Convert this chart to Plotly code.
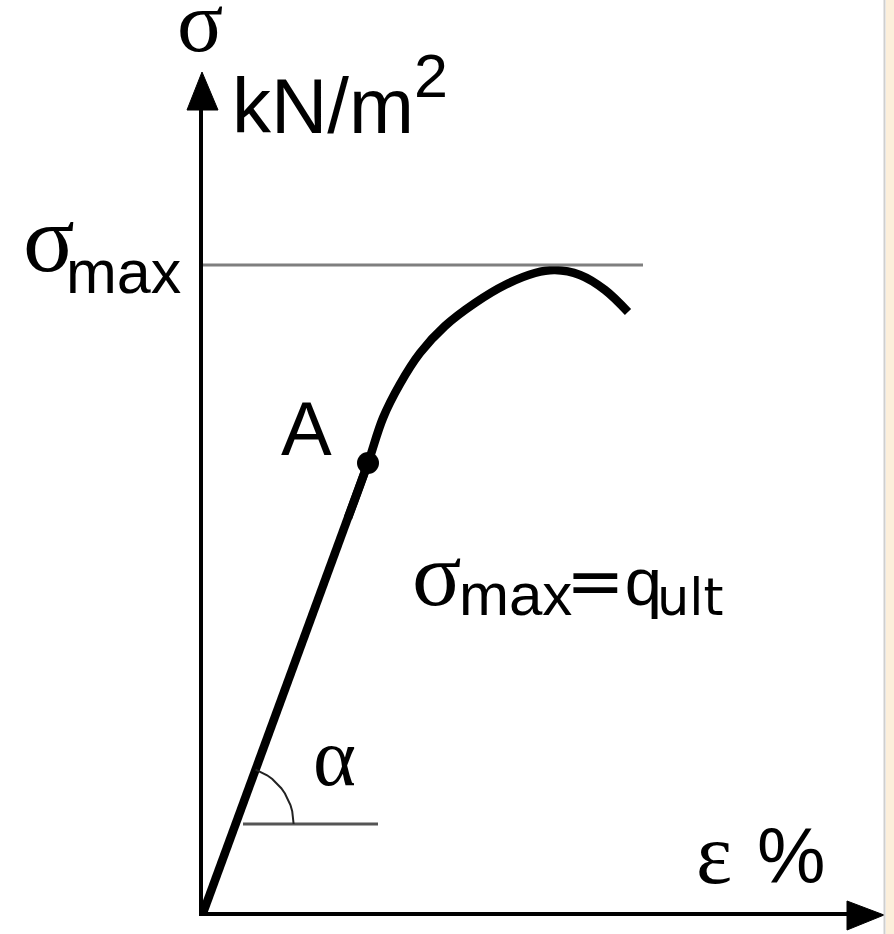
import numpy as np
import plotly.graph_objects as go

# ---- stress–strain data (ε in %, σ in kN/m², arbitrary units) ----
eps_elastic = [0.0, 1.65]
sig_elastic = [0.0, 4.50]
# non-linear branch; the first point lies on the elastic line so the spline leaves A tangentially
eps_plastic = [1.45, 1.65, 1.80, 1.97, 2.17, 2.42, 2.72, 3.02, 3.32, 3.52, 3.77, 4.02, 4.25]
sig_plastic = [3.95, 4.50, 4.95, 5.29, 5.60, 5.87, 6.10, 6.28, 6.40, 6.43, 6.38, 6.23, 6.01]
point_A_eps = [1.65]
point_A_sig = [4.50]
sigma_max = 6.48
sigma_max_line_eps = [0.0, 4.40]
alpha_ref_sig = 0.89
alpha_ref_eps = [0.40, 1.75]

W, H = 894, 934
X0, Y0 = 203, 913          # pixel position of the origin
S = 100.0                  # pixels per unit on both axes


def px(xp):
    return (xp - X0) / S


def py(yp):
    return (Y0 - yp) / S


fig = go.Figure()

# elastic part (straight line, slope = tan α)
fig.add_trace(go.Scatter(x=eps_elastic, y=sig_elastic, mode="lines",
                         line=dict(color="black", width=8.5), hoverinfo="skip"))
# non-linear part up to and past σmax
fig.add_trace(go.Scatter(x=eps_plastic, y=sig_plastic, mode="lines",
                         line=dict(color="black", width=8.5, shape="spline", smoothing=1.0),
                         hoverinfo="skip"))
# σmax reference line
fig.add_trace(go.Scatter(x=sigma_max_line_eps, y=[sigma_max, sigma_max], mode="lines",
                         line=dict(color="#7f7f7f", width=3), hoverinfo="skip"))
# horizontal reference for the angle α
fig.add_trace(go.Scatter(x=alpha_ref_eps, y=[alpha_ref_sig, alpha_ref_sig], mode="lines",
                         line=dict(color="#555555", width=3), hoverinfo="skip"))
# arc marking α
slope_angle = np.arctan2(sig_elastic[1], eps_elastic[1])
cx = alpha_ref_sig * eps_elastic[1] / sig_elastic[1]
r = 0.58
th = np.linspace(0, slope_angle, 12)
fig.add_trace(go.Scatter(x=cx + r * np.cos(th), y=alpha_ref_sig + r * np.sin(th), mode="lines",
                         line=dict(color="#222222", width=2), hoverinfo="skip"))
# point A
fig.add_trace(go.Scatter(x=point_A_eps, y=point_A_sig, mode="markers",
                         marker=dict(color="black", size=22), hoverinfo="skip"))

shapes = []
# axes with arrow heads
shapes.append(dict(type="line", xref="x", yref="y", x0=px(201), y0=py(Y0 + 2), x1=px(201), y1=py(105),
                   line=dict(color="black", width=4)))
shapes.append(dict(type="path", xref="x", yref="y",
                   path=f"M {px(202)},{py(72)} L {px(187)},{py(110)} L {px(218)},{py(110)} Z",
                   fillcolor="black", line=dict(color="black", width=1)))
shapes.append(dict(type="line", xref="x", yref="y", x0=px(199), y0=py(914), x1=px(852), y1=py(914),
                   line=dict(color="black", width=4)))
shapes.append(dict(type="path", xref="x", yref="y",
                   path=f"M {px(884)},{py(915)} L {px(847)},{py(901)} L {px(847)},{py(930)} Z",
                   fillcolor="black", line=dict(color="black", width=1)))
# right-hand page border
shapes.append(dict(type="rect", xref="paper", yref="paper", x0=886 / W, x1=1, y0=0, y1=1,
                   fillcolor="#fcefdb", line=dict(width=0), layer="below"))
shapes.append(dict(type="line", xref="paper", yref="paper", x0=884.5 / W, x1=884.5 / W, y0=0, y1=1,
                   line=dict(color="#cfcfcf", width=2)))

SANS = "Liberation Sans, Arial, sans-serif"
SERIF = "Liberation Serif, Times New Roman, serif"
DEJAVU = "DejaVu Sans, sans-serif"
K = {SANS: 0.3465, SERIF: 0.3375, DEJAVU: 0.346}

annotations = []


def label(text, xp, baseline, size, family=SANS, anchor="left"):
    annotations.append(dict(text=text, x=px(xp), y=py(baseline - K[family] * size),
                            xref="x", yref="y", xanchor=anchor, yanchor="middle",
                            borderpad=0, borderwidth=0, showarrow=False,
                            font=dict(family=family, size=size, color="black")))


label("σ", 200, 51, 86, SERIF, "center")
label("kN/m", 232, 133, 78)
label("2", 414, 97, 61)
label("σ", 49, 271, 96, SERIF, "center")
label("max", 66, 293, 61)
label("A", 306.5, 455, 76, SANS, "center")
label("σ", 437, 605, 92, SERIF, "center")
label("max", 459, 615, 60)
label('=<span style="font-family:Liberation Sans;font-size:67px">q</span>', 566, 605, 70, DEJAVU)
label("ult", 657, 615, 51, DEJAVU)
label("α", 334.5, 785, 82, SERIF, "center")
label("ε", 714, 883, 86, SERIF, "center")
label("%", 791, 883, 77, SANS, "center")

fig.update_layout(
    width=W, height=H, autosize=False,
    margin=dict(l=0, r=0, t=0, b=0),
    paper_bgcolor="white", plot_bgcolor="white",
    showlegend=False,
    xaxis=dict(range=[px(0), px(W)], visible=False, fixedrange=True),
    yaxis=dict(range=[py(H), py(0)], visible=False, fixedrange=True),
    shapes=shapes, annotations=annotations,
)

fig.write_html("out.html")
